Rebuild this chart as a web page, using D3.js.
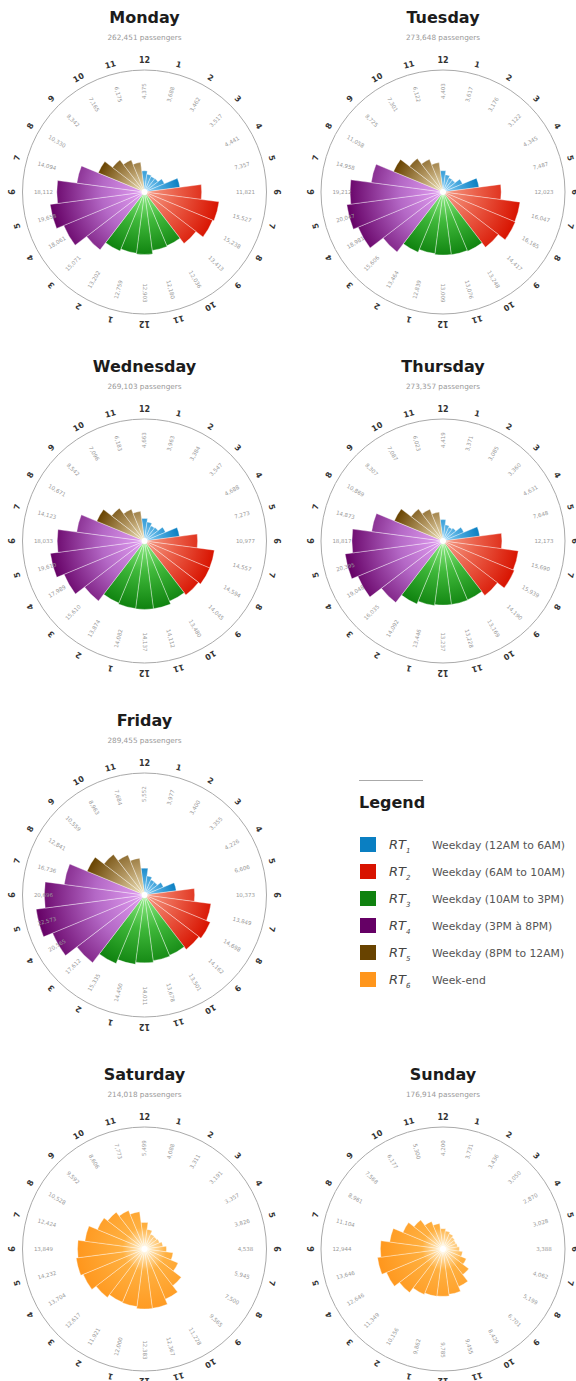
<!DOCTYPE html>
<html>
<head>
<meta charset="utf-8">
<script src="https://d3js.org/d3.v7.min.js"></script>
<style>
  body { margin: 0; background: #fff; }
  svg { display: block; font-family: "DejaVu Sans", Verdana, sans-serif; }
</style>
</head>
<body>
<svg id="chart" width="576" height="1381"></svg>
<script>
// ---- data ----
const days = ["Monday", "Tuesday", "Wednesday", "Thursday", "Friday", "Saturday", "Sunday"];
const totals = [262451, 273648, 269103, 273357, 289455, 214018, 176914];
const hourLabels = ["12","1","2","3","4","5","6","7","8","9","10","11",
                    "12","1","2","3","4","5","6","7","8","9","10","11"];

const monday    = [4375, 3688, 3462, 3517, 4441, 7357, 11821, 15527, 15238, 13413, 12036, 12180,
                   12903, 12759, 13202, 15071, 18061, 19658, 18112, 14094, 10330, 8342, 7165, 6175];
const tuesday   = [4403, 3617, 3176, 3122, 4345, 7487, 12023, 16047, 16165, 14417, 13248, 13076,
                   13009, 12839, 13464, 15606, 18981, 20047, 19212, 14958, 11058, 8725, 7301, 6122];
const wednesday = [4663, 3963, 3384, 3547, 4688, 7273, 10977, 14557, 14594, 14045, 13480, 14112,
                   14137, 14082, 13874, 15610, 17989, 19610, 18033, 14123, 10671, 8542, 7096, 6183];
const thursday  = [4419, 3371, 3085, 3360, 4631, 7648, 12173, 15690, 15939, 14190, 13169, 13228,
                   13237, 13446, 14092, 16035, 19048, 20395, 18817, 14873, 10869, 8307, 7087, 6023];
const friday    = [5552, 3977, 3400, 3355, 4226, 6606, 10373, 13849, 14698, 14162, 13501, 13678,
                   14011, 14450, 15335, 17612, 20565, 22573, 20696, 16736, 12841, 10559, 8963, 7684];
const saturday  = [5499, 4088, 3311, 3191, 3357, 3826, 4538, 5945, 7500, 9565, 11228, 12367,
                   12383, 12000, 11921, 12617, 13704, 14232, 13849, 12424, 10528, 9592, 8606, 7773];
const sunday    = [4200, 3731, 3436, 3050, 2870, 3028, 3388, 4062, 5199, 6701, 8429, 9455,
                   9785, 9862, 10156, 11349, 12646, 13646, 12944, 11104, 8961, 7568, 6177, 5300];
const dayValues = [monday, tuesday, wednesday, thursday, friday, saturday, sunday];

// legend / periods
const periodSubs   = ["1", "2", "3", "4", "5", "6"];
const periodLabels = ["Weekday (12AM to 6AM)", "Weekday (6AM to 10AM)", "Weekday (10AM to 3PM)",
                      "Weekday (3PM à 8PM)", "Weekday (8PM to 12AM)", "Week-end"];
const periodEnds   = [6, 10, 15, 20, 24];   // weekday period boundaries (hour)
const periodColors = ["#0a7fc2", "#d81300", "#0f820f", "#650065", "#684300", "#ff961c"];
const periodMids   = ["#4aa9de", "#ea5c46", "#3fb83a", "#b468c6", "#b39762", "#ffb040"];
const periodLights = ["#9ad8fa", "#f6a08a", "#96f08c", "#e2a0f2", "#f3e8c0", "#fffbe8"];
const midOffset    = [0.45, 0.45, 0.45, 0.45, 0.45, 0.32];

// ---- layout ----
const colX = [144.5, 443];
const rowY = [192, 541, 895, 1249];
const slots = [[0,0],[1,0],[0,1],[1,1],[0,2],[0,3],[1,3]];

const svg = d3.select("#chart");
const defs = svg.append("defs");

const angle = d3.scaleLinear().domain([0, 24]).range([0, 2 * Math.PI]);
const radius = d3.scaleLinear().domain([0, 25000]).range([0, 121]);
const fmt = d3.format(",");
const arc = d3.arc()
  .innerRadius(0)
  .outerRadius(d => radius(d.value))
  .startAngle(d => angle(d.hour - 0.5))
  .endAngle(d => angle(d.hour + 0.5));

function periodOf(dayIdx, hour) {
  if (dayIdx >= 5) return 5;
  return periodEnds.findIndex(e => hour < e);
}

days.forEach((day, di) => {
  const [c, r] = slots[di];
  const cx = colX[c], cy = rowY[r];
  const g = svg.append("g").attr("transform", `translate(${cx},${cy})`);

  const data = dayValues[di].map((v, h) => ({hour: h, value: v, period: periodOf(di, h)}));

  // one radial gradient per period, sized to the period's longest bar
  d3.groups(data, d => d.period).forEach(([p, rows]) => {
    const grad = defs.append("radialGradient")
      .attr("id", `grad-${di}-${p}`)
      .attr("gradientUnits", "userSpaceOnUse")
      .attr("cx", 0).attr("cy", 0)
      .attr("r", radius(d3.max(rows, d => d.value)));
    grad.append("stop").attr("offset", 0).attr("stop-color", periodLights[p]);
    grad.append("stop").attr("offset", midOffset[p]).attr("stop-color", periodMids[p]);
    grad.append("stop").attr("offset", 1).attr("stop-color", periodColors[p]);
  });

  // titles
  g.append("text")
    .attr("y", -169)
    .attr("text-anchor", "middle")
    .attr("font-size", 16).attr("font-weight", "bold")
    .attr("fill", "#1c1c1c")
    .text(day);
  g.append("text")
    .attr("y", -152)
    .attr("text-anchor", "middle")
    .attr("font-size", 7.3)
    .attr("fill", "#999")
    .text(fmt(totals[di]) + " passengers");

  // outer ring
  g.append("circle")
    .attr("r", 122)
    .attr("fill", "none")
    .attr("stroke", "#aaa")
    .attr("stroke-width", 1);

  // bars
  g.selectAll("path.bar")
    .data(data)
    .join("path")
    .attr("class", "bar")
    .attr("d", arc)
    .attr("fill", d => `url(#grad-${di}-${d.period})`)
    .attr("stroke", "#fff")
    .attr("stroke-opacity", 0.7)
    .attr("stroke-width", 0.5);

  g.append("circle").attr("r", 3).attr("fill", "#fff");

  // value labels
  g.selectAll("text.val")
    .data(data)
    .join("text")
    .attr("class", "val")
    .attr("transform", d => {
      const a = d.hour * 15;
      return `rotate(${a - 90}) translate(101,0)` + (a > 180 ? " rotate(180)" : "");
    })
    .attr("text-anchor", "middle")
    .attr("dy", "0.35em")
    .attr("font-size", 5.5)
    .attr("fill", "#999")
    .text(d => fmt(d.value));

  // hour labels
  g.selectAll("text.hour")
    .data(hourLabels)
    .join("text")
    .attr("class", "hour")
    .attr("transform", (d, i) => `rotate(${i * 15}) translate(0,-132)`)
    .attr("text-anchor", "middle")
    .attr("dy", "0.35em")
    .attr("font-size", 8).attr("font-weight", "bold")
    .attr("fill", "#333")
    .text(d => d);
});

// ---- legend ----
const leg = svg.append("g").attr("transform", "translate(359,0)");
leg.append("line")
  .attr("x1", 0).attr("x2", 64)
  .attr("y1", 780.5).attr("y2", 780.5)
  .attr("stroke", "#aaa").attr("stroke-width", 1);
leg.append("text")
  .attr("x", 0).attr("y", 808)
  .attr("font-size", 16).attr("font-weight", "bold")
  .attr("fill", "#1c1c1c")
  .text("Legend");

const item = leg.selectAll("g.item")
  .data(periodLabels)
  .join("g")
  .attr("class", "item")
  .attr("transform", (d, i) => `translate(0,${837 + i * 27})`);
item.append("rect")
  .attr("x", 1).attr("width", 16).attr("height", 15)
  .attr("fill", (d, i) => periodColors[i]);
const rt = item.append("text")
  .attr("x", 30).attr("y", 12)
  .attr("font-size", 13).attr("font-style", "italic")
  .attr("fill", "#444");
rt.append("tspan").text("RT");
rt.append("tspan")
  .attr("dy", 4).attr("font-size", 7)
  .text((d, i) => periodSubs[i]);
item.append("text")
  .attr("x", 73).attr("y", 12)
  .attr("font-size", 10.8)
  .attr("fill", "#555")
  .text(d => d);
</script>
</body>
</html>
